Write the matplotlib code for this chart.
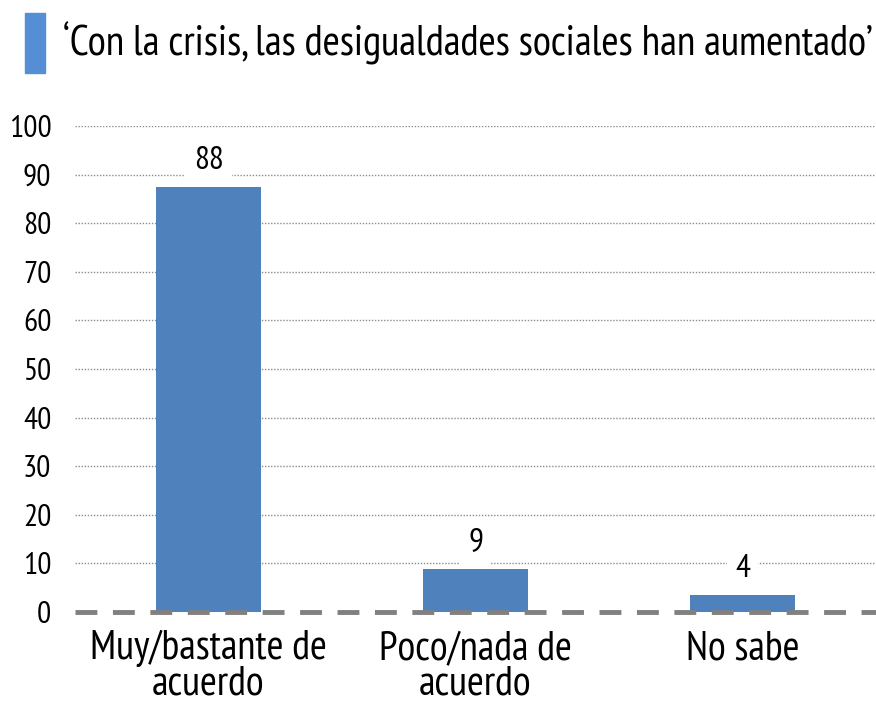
import matplotlib
matplotlib.use("Agg")
import matplotlib.pyplot as plt
from matplotlib.patches import Rectangle
from matplotlib import font_manager as fm

categories = ["Muy/bastante de\nacuerdo", "Poco/nada de\nacuerdo", "No sabe"]
values = [87.5, 8.8, 3.5]
labels = ["88", "9", "4"]
yticks = [0, 10, 20, 30, 40, 50, 60, 70, 80, 90, 100]
title = "‘Con la crisis, las desigualdades sociales han aumentado’"

names = {f.name for f in fm.fontManager.ttflist}
fam = "PT Sans Narrow" if "PT Sans Narrow" in names else "DejaVu Sans"
plt.rcParams['font.family'] = [fam, 'DejaVu Sans']

fig = plt.figure(figsize=(8.76, 7.02), dpi=100)
renderer = fig.canvas.get_renderer()

def fit_size(text, target_px, base=20):
    t = fig.text(0, 0, text, fontsize=base)
    w = t.get_window_extent(renderer).width
    t.remove()
    return base * target_px / w

tick_fs = fit_size("100", 42)
lab_fs = fit_size("88", 30)
cat_fs = fit_size("Muy/bastante de", 236)
title_fs = fit_size(title, 810)

ax = fig.add_axes([75/876, 90/702, 801/876, 486/702])

x = list(range(len(categories)))
ax.bar(x, values, width=0.395, color="#4F81BD", zorder=3)
ax.set_xlim(-0.5, 2.5)
ax.set_ylim(0, 100)
ax.set_yticks(yticks)
ax.set_yticklabels([str(t) for t in yticks], fontsize=tick_fs)
ax.set_xticks(x)
ax.set_xticklabels(categories, fontsize=cat_fs, linespacing=0.95)
ax.tick_params(axis='both', length=0, colors="black")
ax.tick_params(axis='y', pad=17)
ax.tick_params(axis='x', pad=13)
for s in ax.spines.values():
    s.set_visible(False)
for t in yticks[1:]:
    ax.axhline(t, color="#8c8c8c", lw=1.0, ls=(0, (1, 1.2)), zorder=1)
ax.axhline(0, color="#808080", lw=3.5, ls=(0, (4.5, 3.2)), zorder=4, clip_on=False)

for xi, v, lab in zip(x, values, labels):
    ax.annotate(lab, (xi, v), xytext=(0, 8), textcoords="offset points",
                ha="center", va="bottom", fontsize=lab_fs, zorder=5,
                bbox=dict(boxstyle="square,pad=0.25", fc="white", ec="none"))

fig.patches.append(Rectangle((25/876, (702-73)/702), 20/876, 60/702,
                             transform=fig.transFigure, color="#558ED5"))
fig.text(63/876, (702-43)/702, title, fontsize=title_fs, va="center", ha="left")

fig.savefig("out.png", dpi=100)
